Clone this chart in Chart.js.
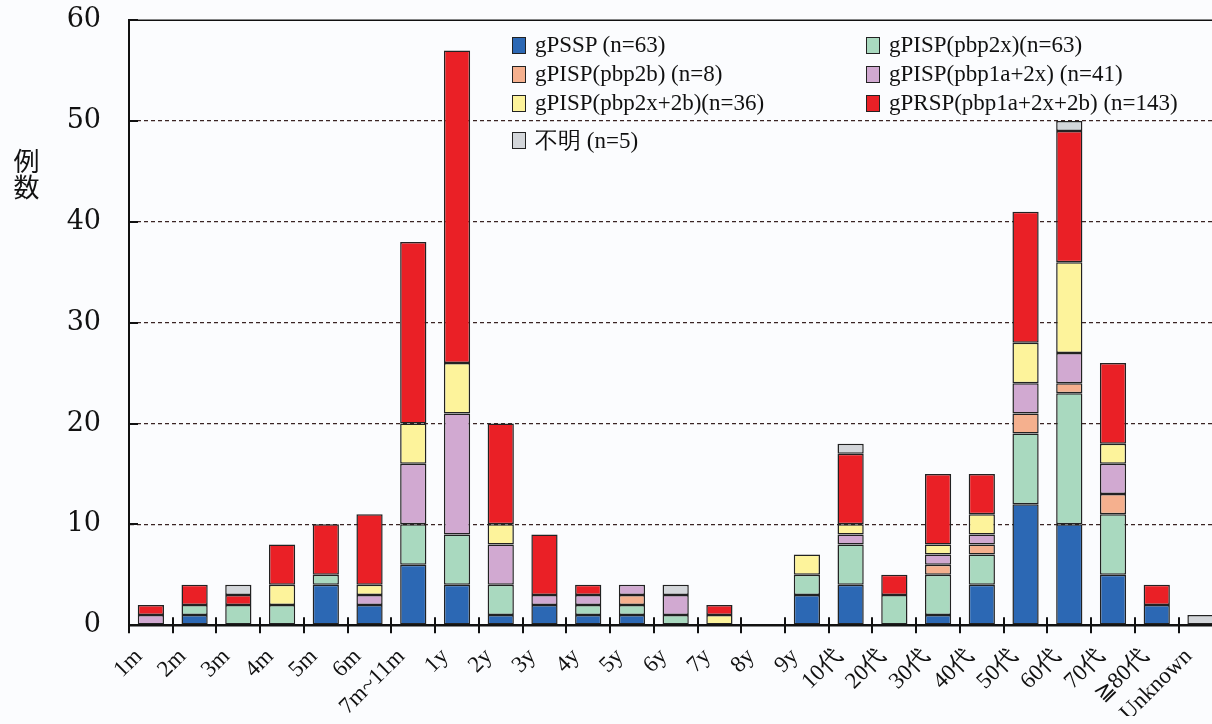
<!DOCTYPE html>
<html>
<head>
<meta charset="utf-8">
<script src="https://cdn.jsdelivr.net/npm/chart.js@4"></script>
<style>
  body { margin: 0; background: #fbfcfe; }
  #wrap { position: relative; width: 1212px; height: 724px; overflow: hidden; }
  #canvas { position: absolute; left: 0; top: 0; }
  #ytitle {
    position: absolute; left: 11px; top: 148px;
    font: 26px "Noto Sans CJK JP", sans-serif; line-height: 30px; color: #111;
    writing-mode: vertical-rl;
  }
  #legend {
    position: absolute; left: 512px; top: 32px; width: 700px;
    font: 23px "Liberation Serif", serif; color: #111;
  }
  .item { position: absolute; white-space: nowrap; display: flex; align-items: center; }
  .box { width: 12px; height: 15px; border: 1.5px solid #222; margin-right: 9px; }
</style>
</head>
<body>
<div id="wrap">
  <canvas id="canvas" width="1230" height="740"></canvas>
  <div id="ytitle">例数</div>
  <div id="legend"></div>
</div>
<script>
// Catégories (âge)
const ages = ["1m", "2m", "3m", "4m", "5m", "6m", "7m~11m", "1y", "2y", "3y", "4y", "5y", "6y", "7y", "8y", "9y",
  "10代", "20代", "30代", "40代", "50代", "60代", "70代", "≧80代", "Unknown"];

// Nombre de cas par génotype
const gPSSP     = [0, 1, 0, 0, 4, 2, 6, 4, 1, 2, 1, 1, 0, 0, 0, 3, 4, 0, 1, 4, 12, 10, 5, 2, 0];
const pbp2x     = [0, 1, 2, 2, 1, 0, 4, 5, 3, 0, 1, 1, 1, 0, 0, 2, 4, 3, 4, 3, 7, 13, 6, 0, 0];
const pbp2b     = [0, 0, 0, 0, 0, 0, 0, 0, 0, 0, 0, 1, 0, 0, 0, 0, 0, 0, 1, 1, 2, 1, 2, 0, 0];
const pbp1a2x   = [1, 0, 0, 0, 0, 1, 6, 12, 4, 1, 1, 1, 2, 0, 0, 0, 1, 0, 1, 1, 3, 3, 3, 0, 0];
const pbp2x2b   = [0, 0, 0, 2, 0, 1, 4, 5, 2, 0, 0, 0, 0, 1, 0, 2, 1, 0, 1, 2, 4, 9, 2, 0, 0];
const gPRSP     = [1, 2, 1, 4, 5, 7, 18, 31, 10, 6, 1, 0, 0, 1, 0, 0, 7, 2, 7, 4, 13, 13, 8, 2, 0];
const unknown   = [0, 0, 1, 0, 0, 0, 0, 0, 0, 0, 0, 0, 1, 0, 0, 0, 1, 0, 0, 0, 0, 1, 0, 0, 1];

const seriesNames = ["gPSSP (n=63)", "gPISP(pbp2x)(n=63)", "gPISP(pbp2b) (n=8)", "gPISP(pbp1a+2x) (n=41)",
  "gPISP(pbp2x+2b)(n=36)", "gPRSP(pbp1a+2x+2b) (n=143)", "不明 (n=5)"];
const seriesData = [gPSSP, pbp2x, pbp2b, pbp1a2x, pbp2x2b, gPRSP, unknown];
const colors = ["#2c68b4", "#a9d9bf", "#f5b08e", "#d1a9d1", "#fdf39b", "#ea2026", "#d3d6da"];

const yTicks = [0, 10, 20, 30, 40, 50, 60];

const serif = "'Liberation Serif', serif";
const canvas = document.getElementById("canvas");

// décalage vertical du canvas pour placer le haut du graphique à y=20
let shiftY = 0;

// Petites graduations des axes (vers l'intérieur)
const axisTicks = {
  id: "axisTicks",
  afterDraw(chart) {
    const ctx = chart.ctx;
    const x = chart.scales.x, y = chart.scales.y;
    const area = chart.chartArea;
    ctx.save();
    ctx.strokeStyle = "#111";
    ctx.lineWidth = 2;
    ctx.beginPath();
    for (let i = 0; i <= ages.length; i++) {
      const px = Math.round(x.getPixelForValue(i - 0.5));
      ctx.moveTo(px, area.bottom - 8);
      ctx.lineTo(px, area.bottom + 8);
    }
    yTicks.forEach((v) => {
      const py = Math.round(y.getPixelForValue(v));
      ctx.moveTo(area.left, py);
      ctx.lineTo(area.left + 9, py);
    });
    ctx.stroke();
    // bordure du haut
    ctx.lineWidth = 1.5;
    ctx.beginPath();
    ctx.moveTo(area.left, area.top);
    ctx.lineTo(area.right, area.top);
    ctx.stroke();
    ctx.restore();
  },
};

const datasets = seriesNames.map((name, i) => ({
  label: name,
  data: seriesData[i].map((v) => (v === 0 ? null : v)),
  backgroundColor: colors[i],
  borderColor: "#222",
  borderWidth: 1.5,
  borderSkipped: false,
  barPercentage: 0.6,
  categoryPercentage: 1,
}));

function buildChart() {
  return new Chart(canvas, {
    type: "bar",
    data: { labels: ages, datasets: datasets },
    options: {
      responsive: false,
      animation: false,
      layout: { padding: 0 },
      plugins: { legend: { display: false }, tooltip: { enabled: false } },
      scales: {
        x: {
          stacked: true,
          grid: { drawOnChartArea: false, drawTicks: false },
          border: { color: "#111", width: 2.5 },
          ticks: {
            color: "#111",
            font: { family: serif, size: 23 },
            minRotation: 45,
            maxRotation: 45,
            padding: 18,
            labelOffset: -12,
            autoSkip: false,
          },
          afterFit: (scale) => { scale.height = canvas.height + shiftY - 625; },
        },
        y: {
          stacked: true,
          min: 0,
          max: 60,
          grid: {
            drawTicks: false,
            color: (c) => (c.tick.value === 0 || c.tick.value === 60 ? "rgba(0,0,0,0)" : "#3a2424"),
            lineWidth: 1.2,
          },
          border: { color: "#111", width: 2, dash: [4, 3] },
          ticks: {
            stepSize: 10,
            color: "#111",
            font: { family: "'DejaVu Serif', serif", size: 27 },
            padding: 28,
          },
          afterFit: (scale) => { scale.width = 129; },
        },
      },
    },
    plugins: [axisTicks],
  });
}

// Premier passage pour mesurer, puis on reconstruit avec le bon cadrage :
// bord droit du graphique à x=1222 (coupé par la fenêtre), haut à y=20
let chart = buildChart();
const newWidth = 1230 + Math.round(1222 - chart.chartArea.right);
shiftY = 20 - chart.chartArea.top;
chart.destroy();
canvas.width = newWidth;
canvas.height = 740;
canvas.style.top = shiftY + "px";
chart = buildChart();

// Légende en deux colonnes
const legend = document.getElementById("legend");
seriesNames.forEach((name, i) => {
  const item = document.createElement("div");
  item.className = "item";
  item.style.left = (i % 2 === 0 ? 0 : 354) + "px";
  item.style.top = (i === 6 ? 93 : Math.floor(i / 2) * 29) + "px";
  const box = document.createElement("span");
  box.className = "box";
  box.style.background = colors[i];
  item.appendChild(box);
  item.appendChild(document.createTextNode(name));
  legend.appendChild(item);
});
</script>
</body>
</html>
